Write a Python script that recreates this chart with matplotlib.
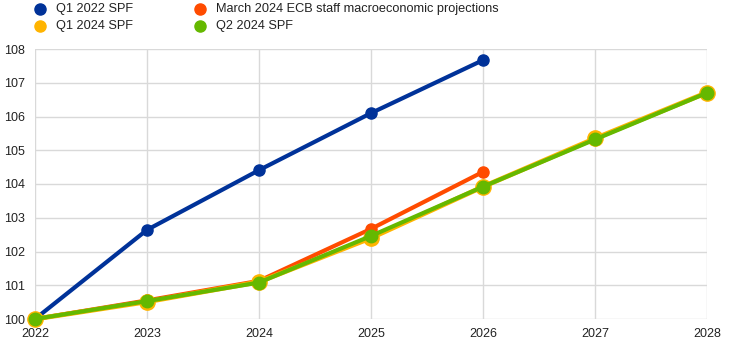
import matplotlib
matplotlib.use("Agg")
import matplotlib.pyplot as plt
from matplotlib.lines import Line2D

plt.rcParams['font.family'] = ['Liberation Sans', 'DejaVu Sans']

years = [2022, 2023, 2024, 2025, 2026, 2027, 2028]

spf_q1_2022 = [100.0, 102.64, 104.41, 106.10, 107.67]
ecb_mar_2024 = [100.0, 100.55, 101.13, 102.67, 104.36]
spf_q1_2024 = [100.0, 100.51, 101.10, 102.40, 103.92, 105.35, 106.71]
spf_q2_2024 = [100.0, 100.53, 101.08, 102.46, 103.92, 105.32, 106.70]

labels = ["Q1 2022 SPF", "March 2024 ECB staff macroeconomic projections",
          "Q1 2024 SPF", "Q2 2024 SPF"]
colors = ["#003299", "#FF4B00", "#FFB400", "#65B800"]

W, H = 744, 346
fig = plt.figure(figsize=(W / 100, H / 100), dpi=100)
ax = fig.add_axes([35/W, 27/H, 672/W, 270/H])

ax.plot(years[:5], spf_q1_2022, color=colors[0], lw=3, marker='o', ms=8,
        zorder=3, clip_on=False)
ax.plot(years[:5], ecb_mar_2024, color=colors[1], lw=3, marker='o', ms=8,
        zorder=3, clip_on=False)
ax.plot(years, spf_q1_2024, color=colors[2], lw=3.5, marker='o', ms=11,
        zorder=4, clip_on=False)
ax.plot(years, spf_q2_2024, color=colors[3], lw=3, marker='o', ms=9,
        zorder=5, clip_on=False)

ax.set_xlim(2022, 2028)
ax.set_ylim(100, 108)
ax.set_xticks(years)
ax.set_yticks(range(100, 109))
ax.grid(True, color="#d9d9d9", lw=1)
ax.set_axisbelow(True)
for s in ax.spines.values():
    s.set_visible(False)
ax.tick_params(length=0, labelsize=9, colors="#222222")
ax.tick_params(axis='x', pad=6.5)
ax.tick_params(axis='y', pad=7.5)

# legend: two columns of marker + label
legend_items = [
    (40, 9, 0), (40, 26, 2),
    (200, 9, 1), (200, 26, 3),
]
for px, py, i in legend_items:
    fig.add_artist(Line2D([px / W], [1 - py / H], ls='none', marker='o',
                          ms=8, color=colors[i], transform=fig.transFigure))
    fig.text((px + 16) / W, 1 - py / H, labels[i], fontsize=9.2,
             color="#222222", va='center', ha='left')

fig.savefig("out.png", dpi=100)
